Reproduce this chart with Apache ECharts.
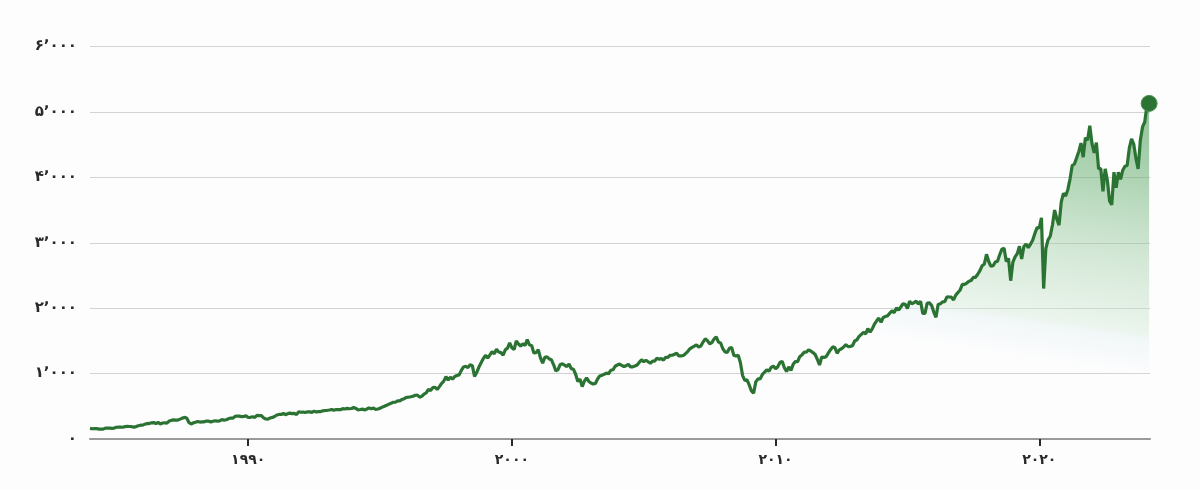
<!DOCTYPE html>
<html>
<head>
<meta charset="utf-8">
<script src="https://cdn.jsdelivr.net/npm/echarts@6/dist/echarts.min.js"></script>
<style>
  html, body { margin: 0; padding: 0; background: #fdfdfd; }
  #chart { width: 1200px; height: 490px; }
</style>
</head>
<body>
<div id="chart"></div>
<script>
// Monthly index level, Jan 1984 .. Mar 2024
const startYear = 1984;
const monthlyValues = [
  // 1984
  163,157,159,160,151,153,151,167,166,166,163,167,
  // 1985
  180,181,181,180,190,192,191,188,182,190,202,211,
  // 1986
  212,227,238,236,247,251,236,253,231,244,249,242,
  // 1987
  274,284,292,288,290,304,319,330,322,252,230,247,
  // 1988
  257,268,259,261,262,274,272,262,272,279,274,278,
  // 1989
  297,289,295,310,321,318,346,351,349,340,346,353,
  // 1990
  329,332,340,331,361,358,356,323,306,304,322,330,
  // 1991
  344,367,375,375,390,371,388,395,388,392,375,417,
  // 1992
  409,413,404,415,415,408,424,414,418,419,431,436,
  // 1993
  439,443,452,440,450,451,448,464,459,468,462,466,
  // 1994
  482,467,446,451,457,444,458,475,463,472,454,459,
  // 1995
  470,487,501,515,533,545,562,562,584,582,605,616,
  // 1996
  636,640,646,654,669,671,640,652,687,705,757,741,
  // 1997
  786,791,757,801,848,885,954,899,947,915,955,970,
  // 1998
  980,1049,1102,1112,1091,1134,1121,957,1017,1099,1164,1229,
  // 1999
  1280,1238,1286,1335,1302,1373,1329,1320,1283,1363,1389,1469,
  // 2000
  1394,1366,1499,1452,1421,1455,1431,1518,1437,1429,1315,1320,
  // 2001
  1366,1240,1160,1249,1256,1224,1211,1134,1041,1060,1139,1148,
  // 2002
  1130,1107,1147,1076,1067,990,880,916,800,886,936,880,
  // 2003
  856,841,848,917,964,975,990,1008,996,1051,1058,1112,
  // 2004
  1131,1145,1126,1107,1121,1141,1102,1104,1115,1130,1174,1212,
  // 2005
  1181,1204,1181,1157,1191,1191,1234,1220,1229,1207,1249,1248,
  // 2006
  1280,1281,1295,1311,1270,1270,1277,1304,1336,1378,1401,1418,
  // 2007
  1438,1407,1421,1482,1531,1503,1455,1474,1527,1560,1481,1468,
  // 2008
  1379,1331,1323,1386,1400,1280,1267,1283,1165,969,896,903,
  // 2009
  826,735,700,873,919,919,987,1021,1057,1036,1096,1115,
  // 2010
  1074,1104,1169,1187,1089,1031,1102,1049,1141,1183,1181,1258,
  // 2011
  1286,1327,1326,1364,1345,1321,1292,1219,1131,1253,1247,1258,
  // 2012
  1312,1366,1408,1398,1310,1362,1379,1407,1441,1412,1416,1426,
  // 2013
  1498,1515,1569,1598,1631,1606,1686,1633,1682,1757,1806,1848,
  // 2014
  1783,1859,1872,1884,1924,1960,1931,2003,1972,2018,2068,2059,
  // 2015
  1995,2105,2068,2086,2107,2063,2104,1920,1920,2079,2080,2044,
  // 2016
  1940,1860,2060,2065,2097,2099,2174,2171,2168,2126,2199,2239,
  // 2017
  2279,2364,2363,2384,2412,2423,2470,2472,2519,2575,2648,2674,
  // 2018
  2824,2714,2641,2648,2705,2718,2816,2902,2914,2712,2760,2420,
  // 2019
  2704,2784,2834,2946,2752,2942,2980,2926,2977,3038,3141,3231,
  // 2020
  3226,3380,2300,2912,3044,3100,3271,3500,3363,3270,3622,3756,
  // 2021
  3714,3811,3973,4181,4204,4298,4395,4523,4308,4605,4567,4790,
  // 2022
  4516,4374,4530,4132,4132,3785,4130,3955,3640,3580,4080,3840,
  // 2023
  4077,3970,4109,4169,4180,4450,4589,4508,4288,4130,4568,4770,
  // 2024
  4846,5096,5130
];

const xTickYears = [1990, 2000, 2010, 2020];
const yTickValues = [0, 1000, 2000, 3000, 4000, 5000, 6000];

const faDigits = ['۰','۱','۲','۳','۴','۵','۶','۷','۸','۹'];
function toFa(str) {
  return String(str).replace(/[0-9]/g, d => faDigits[+d]);
}
function faThousands(v) {
  const s = String(Math.round(v));
  const withSep = s.replace(/\B(?=(\d{3})+(?!\d))/g, '٬');
  return toFa(withSep);
}

const seriesData = monthlyValues.map((v, i) => [startYear + i / 12, v]);
const lastPoint = seriesData[seriesData.length - 1];

const chart = echarts.init(document.getElementById('chart'), null, { renderer: 'canvas' });

const option = {
  backgroundColor: '#fdfdfd',
  animation: false,
  grid: { left: 90, right: 50, top: 46.5, bottom: 51, containLabel: false },
  xAxis: {
    type: 'value',
    min: 1984,
    max: 2024.2,
    axisLine: { show: true, lineStyle: { color: '#9a9a9a', width: 2 } },
    axisTick: {
      show: true,
      customValues: xTickYears,
      length: 7,
      lineStyle: { color: '#2a2a2a', width: 2 }
    },
    axisLabel: {
      customValues: xTickYears,
      formatter: v => toFa(v),
      color: '#2a2a2a',
      fontFamily: 'DejaVu Sans',
      fontSize: 14,
      fontWeight: 'bold',
      margin: 14
    },
    splitLine: { show: false }
  },
  yAxis: {
    type: 'value',
    min: 0,
    max: 6000,
    interval: 1000,
    axisLine: { show: false },
    axisTick: { show: false },
    axisLabel: {
      customValues: yTickValues,
      formatter: v => faThousands(v),
      color: '#2a2a2a',
      fontFamily: 'DejaVu Sans',
      fontSize: 15,
      fontWeight: 'bold',
      margin: 13
    },
    splitLine: { show: true, lineStyle: { color: '#d2d2d2', width: 1 } }
  },
  series: [
    {
      type: 'line',
      data: seriesData,
      showSymbol: false,
      symbol: 'none',
      lineStyle: { color: '#2b7332', width: 3.2 },
      areaStyle: {
        color: {
          type: 'linear',
          global: true,
          x: 1150, y: 100, x2: 1110, y2: 375,
          colorStops: [
            { offset: 0, color: 'rgba(70,150,82,0.85)' },
            { offset: 0.3, color: 'rgba(105,176,115,0.75)' },
            { offset: 0.6, color: 'rgba(160,206,166,0.6)' },
            { offset: 0.83, color: 'rgba(210,233,214,0.6)' },
            { offset: 0.86, color: 'rgba(228,240,243,0.65)' },
            { offset: 0.95, color: 'rgba(240,246,250,0.45)' },
            { offset: 1, color: 'rgba(255,255,255,0)' }
          ]
        }
      },
      z: 2
    },
    {
      type: 'scatter',
      data: [lastPoint],
      symbol: 'circle',
      symbolSize: 16,
      itemStyle: { color: '#2b7332', opacity: 1, borderColor: '#4a9151', borderWidth: 1 },
      z: 3
    }
  ]
};

chart.setOption(option);
</script>
</body>
</html>
